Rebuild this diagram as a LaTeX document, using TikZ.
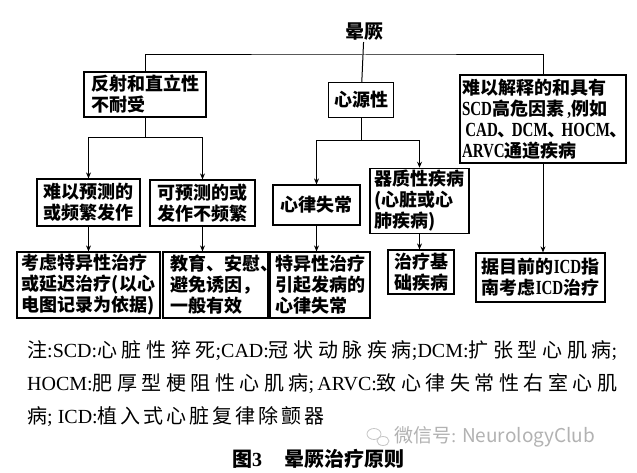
\documentclass[tikz,border=0pt]{standalone}
\usepackage{fontspec}
\usepackage{tikz}
\usetikzlibrary{arrows.meta, positioning, calc}
\setmainfont{Liberation Serif}
\newfontfamily\cjk{Noto Sans CJK SC}
\newfontfamily\enbox{Liberation Serif}[FakeStretch=0.75]
\XeTeXlinebreaklocale "zh"
\XeTeXlinebreakskip=0pt plus 1pt
\newcommand{\en}[1]{{\rmfamily #1}}
\newcommand{\eb}[1]{{\enbox\bfseries\fontsize{20}{21}\selectfont #1}}
\newcommand{\dun}{\makebox[14pt][l]{、}}
\newcommand{\notefont}{\cjk\fontsize{20}{33}\selectfont\XeTeXlinebreakskip=3pt plus 6pt\relax}
\tikzset{
	box/.style      ={rectangle, draw=black, line width=1.2pt, inner sep=2pt, align=left, font=\cjk\bfseries\fontsize{18}{21}\selectfont},
	link/.style     ={line width=1pt},
	flowarrow/.style={-{Stealth[length=6pt, width=5pt]}, line width=1pt},
}

\begin{document}
\begin{tikzpicture}[x=1pt, y=-1pt]
	\useasboundingbox (0,0) rectangle (637,473);
	\fill[white] (0,0) rectangle (637,473);
	\node[font=\cjk\bfseries\fontsize{19}{21}\selectfont, inner sep=1pt] (title) at (364,32) {晕厥};
	\node[box, minimum width=122pt, minimum height=45pt] (reflex) at (145,94.5) {反射和直立性\\不耐受};
	\node[box, minimum width=65pt, minimum height=35pt] (cardiac) at (361,100) {心源性};
	\node[box, minimum width=158pt, minimum height=88pt] (unexpl) at (543,119) {难以解释的和具有\\\eb{SCD}高危因素\eb{\,,}例如\\\eb{\,CAD}\dun\eb{DCM}\dun\eb{HOCM}\dun\\\eb{ARVC}通道疾病};
	\node[box, minimum width=103pt, minimum height=47pt] (unpred) at (88.5,202.5) {难以预测的\\或频繁发作};
	\node[box, minimum width=105pt, minimum height=46pt] (pred) at (202.5,203) {可预测的或\\发作不频繁};
	\node[box, minimum width=87pt, minimum height=40pt] (arrhy) at (316.5,205) {心律失常};
	\node[box, minimum width=99pt, minimum height=64pt] (struct) at (419.5,201) {器质性疾病\\(心脏或心\\肺疾病)};
	\node[box, minimum width=143pt, minimum height=66pt] (tx1) at (88.5,285) {考虑特异性治疗\\或延迟治疗(以心\\电图记录为依据)};
	\node[box, minimum width=105pt, minimum height=66pt] (tx2) at (215.5,285) {教育、安慰\rlap{、}\\避免诱因，\\一般有效};
	\node[box, minimum width=100pt, minimum height=66pt] (tx3) at (320,285) {特异性治疗\\引起发病的\\心律失常};
	\node[box, minimum width=66pt, minimum height=44pt] (tx4) at (421,272) {治疗基\\础疾病};
	\node[box, minimum width=129pt, minimum height=49pt] (tx5) at (540.5,277.5) {据目前的\eb{ICD}指\\南考虑\eb{ICD}治疗};
	\coordinate (bus) at (364,55);
	\path (reflex.south) ++(0,20) coordinate (j1);
	\path (cardiac.south) ++(0,22) coordinate (j2);
	\draw[link] (title) -- (cardiac);
	\draw[link] (reflex) |- (bus) -| (unexpl);
	\draw[link] (reflex) -- (j1);
	\draw[link] (cardiac) -- (j2);
	\draw[flowarrow] (j1) -| (unpred);
	\draw[flowarrow] (j1) -| (pred);
	\draw[flowarrow] (j2) -| (arrhy);
	\draw[flowarrow] (j2) -| (struct);
	\foreach \a/\b in {unpred/tx1, pred/tx2, arrhy/tx3, struct/tx4, unexpl/tx5} {
		\draw[flowarrow] (\a) -- (\a |- \b.north);
	}
	\node[anchor=north west, inner sep=0pt, text width=590pt, align=justify, font=\notefont] (notes) at (27,340) {注\en{:SCD:}心脏性猝死\en{;CAD:}冠状动脉疾病\en{;DCM:}扩张型心肌病\en{;}\linebreak
		\en{HOCM:}肥厚型梗阻性心肌病\en{;\,ARVC:}致心律失常性右室心肌\linebreak
		病\en{;\ ICD:}植入式心脏复律除颤器};
	\draw[gray!45, line width=0.8pt] (374,434) ellipse (7pt and 5.5pt);
	\draw[gray!45, line width=0.8pt, fill=white] (383,441) ellipse (6pt and 4.5pt);
	\node[anchor=west, text=gray!60, font=\cjk\fontsize{19}{21}\selectfont, inner sep=0pt] (wm) at (394,437) {微信号\en{:} NeurologyClub};
	\node[font=\cjk\bfseries\fontsize{20}{22}\selectfont, inner sep=0pt] (caption) at (318,459) {图\en{\bfseries 3}\hspace{22pt}晕厥治疗原则};
\end{tikzpicture}
\end{document}
